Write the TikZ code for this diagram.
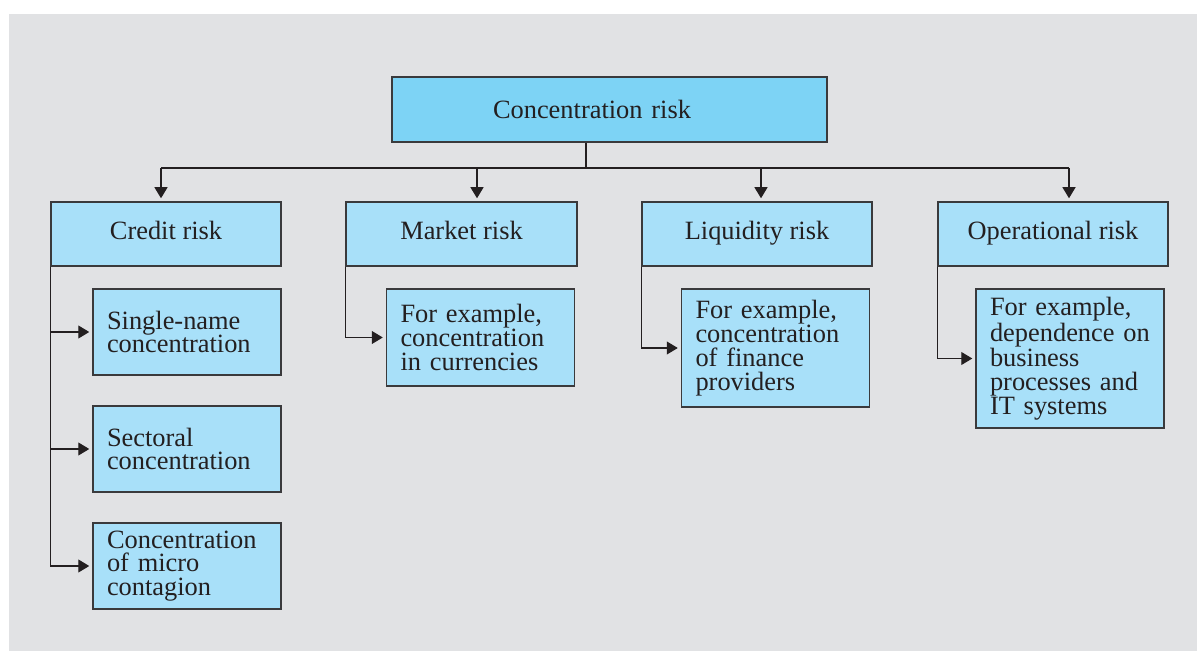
\documentclass[tikz,border=0pt]{standalone}
\usepackage{fontspec}
\setmainfont{Liberation Serif}
\usetikzlibrary{arrows.meta}

\definecolor{panelgray}{HTML}{E1E2E4}
\definecolor{topblue}{HTML}{7DD3F5}
\definecolor{boxblue}{HTML}{A8E0F9}
\definecolor{inkgray}{HTML}{231F20}
\definecolor{rimgray}{HTML}{3A3A3C}

\begin{document}
\begin{tikzpicture}[x=0.5pt,y=-0.5pt,
  every node/.style={font=\fontsize{13.2}{11.9}\selectfont, text=inkgray},
  box/.style={draw=rimgray, line width=0.75pt},
  branch/.style={box, fill=boxblue, minimum width=115pt, minimum height=32pt, inner sep=0pt, text height=6pt, text depth=0pt},
  leaf/.style={box, fill=boxblue, align=left, text width=80pt, inner xsep=7pt, inner ysep=0pt, minimum height=#1},
  link/.style={draw=inkgray, line width=0.55pt},
  arr/.style={link, -{Triangle[length=5.5pt,width=6.5pt]}, shorten >=1.5pt}]
  \fill[white] (0,0) rectangle (1197,651);
  \fill[panelgray] (9,14) rectangle (1197,651);

  \node[box, fill=topblue, align=left, text width=116.5pt, inner xsep=50.5pt, minimum height=32.5pt] (top) at (609.5,109.5) {Concentration risk};

  \node[branch] (credit) at (166,234) {Credit risk};
  \node[branch, minimum width=115.5pt] (market) at (461.5,234) {Market risk};
  \node[branch] (liquidity) at (757,234) {Liquidity risk};
  \node[branch] (operational) at (1053,234) {Operational risk};

  \node[leaf=43pt] (single) at (187,332) {Single-name\\concentration};
  \node[leaf=43pt] (sectoral) at (187,449) {Sectoral\\concentration};
  \node[leaf=43pt] (contagion) at (187,566) {Concentration\\of micro\\contagion};
  \node[leaf=48.5pt] (currencies) at (480.5,337.5) {For example,\\concentration\\in currencies};
  \node[leaf=59pt] (providers) at (775.5,348) {For example,\\concentration\\of finance\\providers};
  \node[leaf=69.5pt] (itsystems) at (1070,358.5) {For example,\\dependence on\\business\\processes and\\IT systems};

  \coordinate (trunk) at (586,168);
  \coordinate (b1) at (161,168);
  \coordinate (b2) at (477,168);
  \coordinate (b3) at (761,168);
  \coordinate (b4) at (1069,168);
  \draw[link] (trunk |- top.south) -- (trunk);
  \draw[link] (b1) -- (b4);
  \foreach \busend/\riskname in {b1/credit, b2/market, b3/liquidity, b4/operational}
    \draw[arr] (\busend) -- (\busend |- \riskname.north);

  \draw[arr] (credit.south west) |- (contagion.west);
  \foreach \leafname in {single, sectoral}
    \draw[arr] (credit.south west |- \leafname.west) -- (\leafname.west);
  \draw[arr] (market.south west) |- (currencies.west);
  \draw[arr] (liquidity.south west) |- (providers.west);
  \draw[arr] (operational.south west) |- (itsystems.west);
\end{tikzpicture}
\end{document}
